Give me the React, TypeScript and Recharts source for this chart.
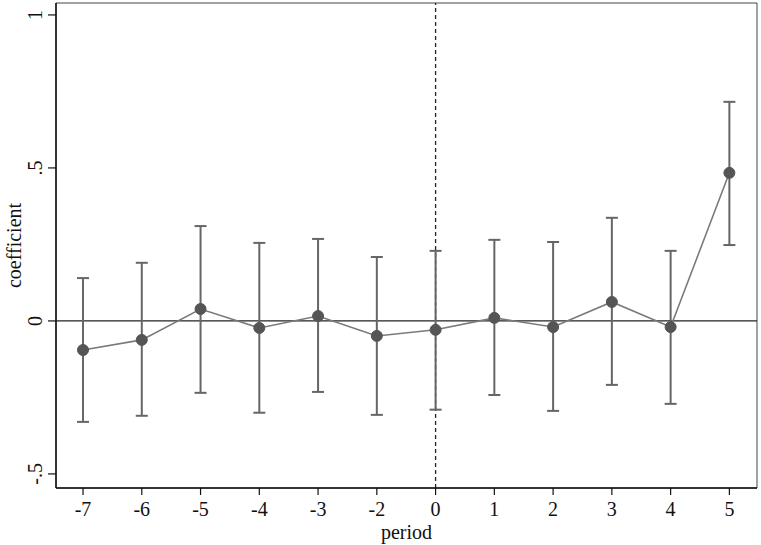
import {
  ComposedChart,
  Line,
  XAxis,
  YAxis,
  ErrorBar,
  ReferenceLine,
  ReferenceArea,
} from "recharts";

const periods = ["-7", "-6", "-5", "-4", "-3", "-2", "0", "1", "2", "3", "4", "5"];
const coefs = [-0.095, -0.062, 0.039, -0.023, 0.016, -0.049, -0.029, 0.01, -0.02, 0.062, -0.02, 0.484];
const upper = [0.14, 0.19, 0.31, 0.255, 0.268, 0.209, 0.229, 0.265, 0.258, 0.337, 0.229, 0.716];
const lower = [-0.33, -0.31, -0.235, -0.3, -0.232, -0.307, -0.29, -0.242, -0.294, -0.209, -0.271, 0.248];
const yTicks = [-0.5, 0, 0.5, 1];

const FONT = "'Liberation Serif', 'Times New Roman', serif";
const FS = 20;
const X_MIN = -0.46;
const X_MAX = 11.47;
const Y_MIN = -0.546;
const Y_MAX = 1.039;

const data = periods.map((p, i) => ({
  idx: i,
  period: p,
  coef: coefs[i],
  err: [coefs[i] - lower[i], upper[i] - coefs[i]],
}));

function fmtY(v: number): string {
  if (v === 0) return "0";
  return String(v).replace("0.", ".");
}

function YTick(props: any) {
  const { x, y, payload } = props;
  const bx = x - 4;
  return (
    <text
      x={bx}
      y={y}
      transform={`rotate(-90, ${bx}, ${y})`}
      textAnchor="middle"
      fontFamily={FONT}
      fontSize={FS}
      fill="#111"
    >
      {fmtY(payload.value)}
    </text>
  );
}

function YLabel(props: any) {
  const vb = props.viewBox;
  const cy = vb.y + vb.height / 2;
  return (
    <text
      x={21}
      y={cy}
      transform={`rotate(-90, 21, ${cy})`}
      textAnchor="middle"
      fontFamily={FONT}
      fontSize={FS}
      fill="#111"
    >
      coefficient
    </text>
  );
}

function XLabel(props: any) {
  const vb = props.viewBox;
  const cx = vb.x + vb.width / 2;
  return (
    <text x={cx} y={539} textAnchor="middle" fontFamily={FONT} fontSize={FS} fill="#111">
      period
    </text>
  );
}

export default function App() {
  return (
    <div style={{ position: "absolute", left: 0, top: 0, background: "#fff" }}>
      <ComposedChart
        width={761}
        height={545}
        data={data}
        margin={{ top: 3, right: 4, bottom: 0, left: 0 }}
      >
        <ReferenceArea
          x1={X_MIN}
          x2={X_MAX}
          y1={Y_MIN}
          y2={Y_MAX}
          fill="none"
          stroke="#444"
          strokeWidth={1}
          ifOverflow="visible"
        />
        <XAxis
          dataKey="idx"
          type="number"
          domain={[X_MIN, X_MAX]}
          ticks={periods.map((_, i) => i)}
          tickFormatter={(v) => periods[v] ?? ""}
          allowDataOverflow
          height={57}
          tickSize={7}
          tickMargin={7}
          axisLine={{ stroke: "#111", strokeWidth: 1.5 }}
          tickLine={{ stroke: "#111", strokeWidth: 1.2 }}
          tick={{ fontFamily: FONT, fontSize: FS, fill: "#111" }}
          label={<XLabel />}
        />
        <YAxis
          type="number"
          domain={[Y_MIN, Y_MAX]}
          ticks={yTicks}
          allowDataOverflow
          width={56}
          tickSize={8}
          axisLine={{ stroke: "#111", strokeWidth: 1.5 }}
          tickLine={{ stroke: "#111", strokeWidth: 1.2 }}
          tick={<YTick />}
          label={<YLabel />}
        />
        <ReferenceLine y={0} stroke="#222" strokeWidth={1.3} />
        <ReferenceLine x={6} stroke="#222" strokeWidth={1.3} strokeDasharray="4 3" />
        <Line
          dataKey="coef"
          stroke="#7a7a7a"
          strokeWidth={1.6}
          isAnimationActive={false}
          dot={{ r: 5.5, fill: "#555", stroke: "#555", strokeWidth: 1 }}
          activeDot={false}
        >
          <ErrorBar dataKey="err" direction="y" width={6} stroke="#666" strokeWidth={2} />
        </Line>
      </ComposedChart>
    </div>
  );
}
